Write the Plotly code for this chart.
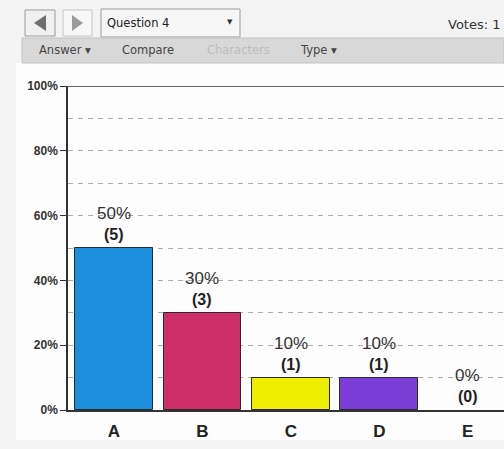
import plotly.graph_objects as go

categories = ["A", "B", "C", "D", "E"]
percents = [50, 30, 10, 10, 0]
counts = [5, 3, 1, 1, 0]
bar_colors = ["#1b8fdb", "#cf2f68", "#eeee00", "#7a3ed6", "#ffffff"]
y_ticks = [0, 20, 40, 60, 80, 100]
y_tick_labels = ["0%", "20%", "40%", "60%", "80%", "100%"]

W, H = 504, 449
L, R, T, B = 68, 0, 86, 39
PW, PH = W - L - R, H - T - B


def px(x):
    return (x - L) / PW


def py(y):
    return 1 - (y - T) / PH


fig = go.Figure()
fig.add_trace(go.Bar(
    x=categories, y=percents, width=0.88,
    marker=dict(color=bar_colors,
                line=dict(color="#2a2a2a", width=[1 if p > 0 else 0 for p in percents])),
    hoverinfo="skip",
))

annotations = []
for c, p, n in zip(categories, percents, counts):
    annotations.append(dict(x=c, y=p, xref="x", yref="y", text=f"{p}%", showarrow=False,
                            yanchor="bottom", yshift=23,
                            font=dict(family="Arial", size=17, color="#333333")))
    annotations.append(dict(x=c, y=p, xref="x", yref="y", text=f"<b>({n})</b>", showarrow=False,
                            yanchor="bottom", yshift=3,
                            font=dict(family="Arial", size=16, color="#222222")))

shapes = []


def rect(x0, y0, x1, y1, fill, line="rgba(0,0,0,0)", lw=0, layer="below"):
    shapes.append(dict(type="rect", xref="paper", yref="paper",
                       x0=px(x0), x1=px(x1), y0=py(y1), y1=py(y0),
                       fillcolor=fill, line=dict(color=line, width=lw), layer=layer))


def text(x, y, s, size=10, color="#333333", anchor="left", family="DejaVu Sans"):
    annotations.append(dict(x=px(x), y=py(y), xref="paper", yref="paper", text=s,
                            showarrow=False, xanchor=anchor, yanchor="middle",
                            font=dict(family=family, size=size, color=color)))


# page background pieces
rect(0, 0, 504, 449, "#f4f4f4")
rect(16, 63, 504, 440, "#fdfdfd")
# toolbar row 1
rect(16, 0, 504, 38, "#f3f3f3")
rect(25, 10, 55, 36, "#f0f0f0", "#9a9a9a", 1)
rect(63, 10, 92, 36, "#f7f7f7", "#c4c4c4", 1)
rect(101, 9, 240, 37, "#f6f6f6", "#9a9a9a", 1)
# arrows
shapes.append(dict(type="path", xref="paper", yref="paper",
                   path=f"M {px(34)},{py(23)} L {px(46)},{py(15)} L {px(46)},{py(31)} Z",
                   fillcolor="#6e6e6e", line=dict(width=0), layer="above"))
shapes.append(dict(type="path", xref="paper", yref="paper",
                   path=f"M {px(83)},{py(23)} L {px(72)},{py(15)} L {px(72)},{py(31)} Z",
                   fillcolor="#9a9a9a", line=dict(width=0), layer="above"))
# toolbar row 2
rect(22, 38, 504, 63, "#d8d8d8", "#c2c2c2", 1)

text(105, 23, "Question 4", 11.5, "#222222")
text(230, 22, "▼", 7, "#333333", "center")
text(503, 24, "Votes: 1", 13, "#333333", "right")
text(37, 50, "Answer ▾", 11.5, "#444444")
text(120, 50, "Compare", 11.5, "#444444")
text(205, 50, "Characters", 11.5, "#bdbdbd")
text(298, 50, "Type ▾", 11.5, "#444444")

# solid top line at 100%
shapes.append(dict(type="line", xref="paper", yref="y", x0=px(62), x1=px(504), y0=100, y1=100,
                   line=dict(color="#333333", width=1.5), layer="above"))

fig.update_layout(
    width=W, height=H,
    margin=dict(l=L, r=R, t=T, b=B, pad=0),
    paper_bgcolor="#f4f4f4",
    plot_bgcolor="rgba(0,0,0,0)",
    showlegend=False,
    shapes=shapes,
    annotations=annotations,
    bargap=0,
    xaxis=dict(range=[-0.52, 4.41], showline=True, linecolor="#333333", linewidth=1.5,
               showgrid=False, ticks="", ticklabelstandoff=5, fixedrange=True,
               tickfont=dict(family="Arial", size=17, color="#222222"),
               tickvals=categories, ticktext=[f"<b>{c}</b>" for c in categories]),
    yaxis=dict(range=[0, 100], tickvals=y_ticks, ticktext=[f"<b>{t}</b>" for t in y_tick_labels],
               showline=True, linecolor="#333333", linewidth=1.5,
               ticks="outside", ticklen=6, tickcolor="#333333", tickwidth=1,
               tickfont=dict(family="Arial", size=12, color="#333333"),
               showgrid=True, gridcolor="#aaaaaa", griddash="5px,5px", gridwidth=1,
               minor=dict(dtick=10, showgrid=True, gridcolor="#aaaaaa", griddash="5px,5px", gridwidth=1),
               zeroline=False, fixedrange=True),
)

fig.write_html("out.html", config={"displayModeBar": False},
               post_script="document.body.style.margin='0';document.body.style.overflow='hidden';")
